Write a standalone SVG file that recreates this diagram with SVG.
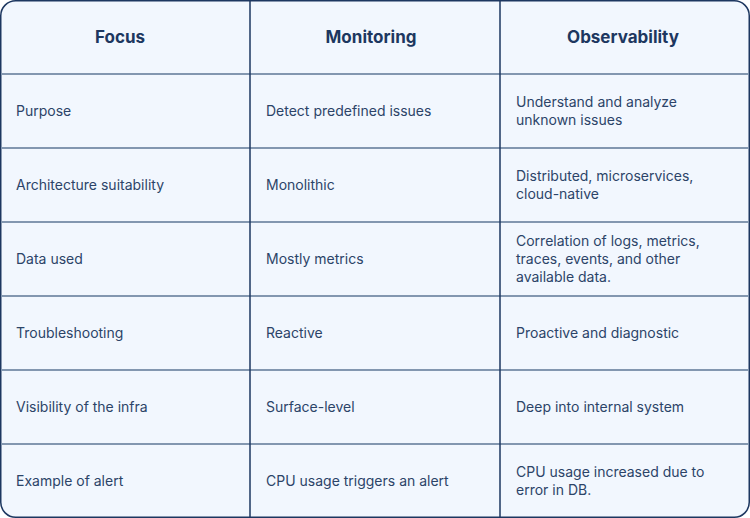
<svg xmlns="http://www.w3.org/2000/svg" width="750" height="518" viewBox="0 0 750 518">
<style>
.h{font:bold 17px Inter,"Liberation Sans",sans-serif;fill:#1d3760;text-anchor:middle}
.t{font:14px Inter,"Liberation Sans",sans-serif;fill:#2c4468}
.hl{stroke:#8397b0;stroke-width:2}
.vl{stroke:#1d3760;stroke-width:1.5}
</style>
<rect width="750" height="518" fill="#fff"/>
<rect x="0.75" y="0.75" width="748.5" height="516.5" rx="15" fill="#f2f7fe" stroke="#1d3760" stroke-width="1.5"/>
<g id="grid">
<line class="hl" x1="1" y1="74" x2="749" y2="74"/>
<line class="hl" x1="1" y1="148" x2="749" y2="148"/>
<line class="hl" x1="1" y1="222" x2="749" y2="222"/>
<line class="hl" x1="1" y1="296" x2="749" y2="296"/>
<line class="hl" x1="1" y1="370" x2="749" y2="370"/>
<line class="hl" x1="1" y1="444" x2="749" y2="444"/>
<line class="vl" x1="250" y1="1" x2="250" y2="517"/>
<line class="vl" x1="500" y1="1" x2="500" y2="517"/>
</g>
<g id="header">
<text class="h" x="120" y="43">Focus</text>
<text class="h" x="371" y="43">Monitoring</text>
<text class="h" x="623" y="43">Observability</text>
</g>
<g id="body">
<text class="t" x="16" y="116">Purpose</text>
<text class="t" x="266" y="116">Detect predefined issues</text>
<text class="t" x="516" y="107">Understand and analyze</text>
<text class="t" x="516" y="125">unknown issues</text>
<text class="t" x="16" y="190">Architecture suitability</text>
<text class="t" x="266" y="190">Monolithic</text>
<text class="t" x="516" y="181">Distributed, microservices,</text>
<text class="t" x="516" y="199">cloud-native</text>
<text class="t" x="16" y="264">Data used</text>
<text class="t" x="266" y="264">Mostly metrics</text>
<text class="t" x="516" y="246">Correlation of logs, metrics,</text>
<text class="t" x="516" y="264">traces, events, and other</text>
<text class="t" x="516" y="282">available data.</text>
<text class="t" x="16" y="338">Troubleshooting</text>
<text class="t" x="266" y="338">Reactive</text>
<text class="t" x="516" y="338">Proactive and diagnostic</text>
<text class="t" x="16" y="412">Visibility of the infra</text>
<text class="t" x="266" y="412">Surface-level</text>
<text class="t" x="516" y="412">Deep into internal system</text>
<text class="t" x="16" y="486">Example of alert</text>
<text class="t" x="266" y="486">CPU usage triggers an alert</text>
<text class="t" x="516" y="477">CPU usage increased due to</text>
<text class="t" x="516" y="495">error in DB.</text>
</g>
</svg>
